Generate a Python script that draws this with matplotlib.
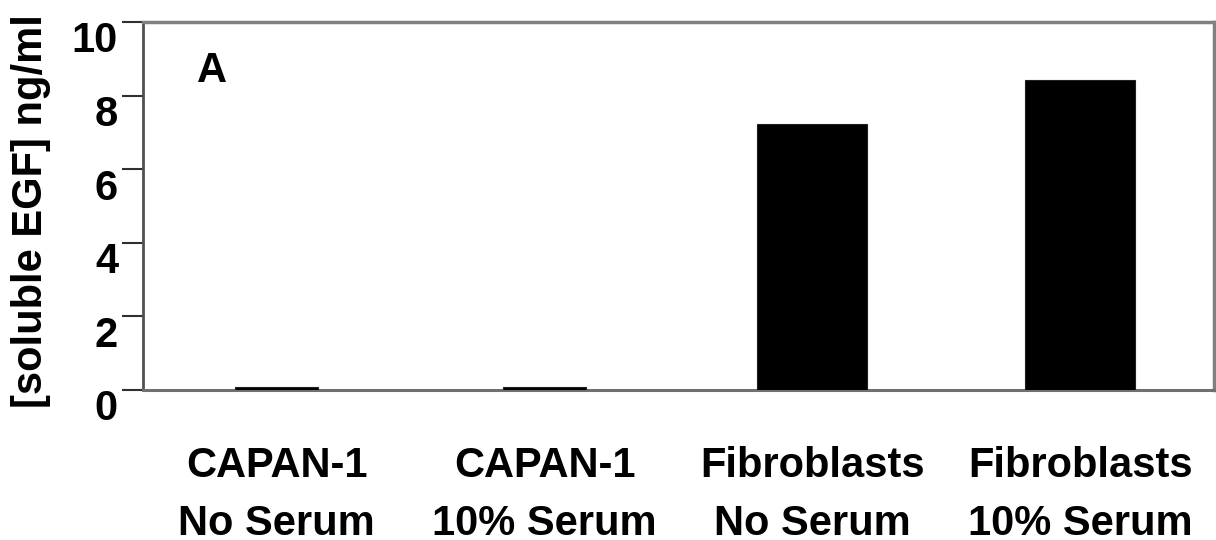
import matplotlib
matplotlib.use("Agg")
import matplotlib.pyplot as plt
import matplotlib.transforms as mtransforms

categories = ["CAPAN-1\nNo Serum", "CAPAN-1\n10% Serum", "Fibroblasts\nNo Serum", "Fibroblasts\n10% Serum"]
values = [0.08, 0.08, 7.23, 8.42]
bar_widths = [0.31, 0.31, 0.41, 0.41]
yticks = [0, 2, 4, 6, 8, 10]

plt.rcParams['font.family'] = ['Liberation Sans', 'DejaVu Sans']
plt.rcParams['font.weight'] = 'bold'

FS = 30

fig = plt.figure(figsize=(12.16, 5.4), dpi=100)
ax = fig.add_axes([143/1216, 150/540, 1071/1216, 368/540])

x = list(range(len(categories)))
ax.bar(x, values, width=bar_widths, color='black', edgecolor='#202020', linewidth=0.8, zorder=3)

ax.set_xlim(-0.5, len(categories) - 0.5)
ax.set_ylim(0, 10)
ax.set_yticks(yticks)
ax.set_yticklabels([str(t) for t in yticks], fontsize=FS, fontweight='bold')
ax.set_xticks(x)
ax.set_xticklabels(categories, fontsize=FS, fontweight='bold', linespacing=1.6)
ax.tick_params(axis='x', length=0, pad=40)
ax.tick_params(axis='y', direction='out', length=15, width=1.5, color='#303030', pad=3)

offset = mtransforms.ScaledTranslation(0, -0.15, fig.dpi_scale_trans)
for lbl in ax.get_yticklabels():
    lbl.set_transform(lbl.get_transform() + offset)

for side in ['top', 'right']:
    ax.spines[side].set_color('#808080')
    ax.spines[side].set_linewidth(2.5)
ax.spines['left'].set_color('#505050')
ax.spines['left'].set_linewidth(2.0)
ax.spines['bottom'].set_color('#707070')
ax.spines['bottom'].set_linewidth(2.2)

ax.set_ylabel("[soluble EGF] ng/ml", fontsize=FS, fontweight='bold')
ax.yaxis.set_label_coords(-0.0860, 0.486)
ax.text(0.05, 0.837, "A", transform=ax.transAxes, fontsize=FS, fontweight='bold', va='baseline', ha='left')

fig.savefig("out.png", dpi=100)
